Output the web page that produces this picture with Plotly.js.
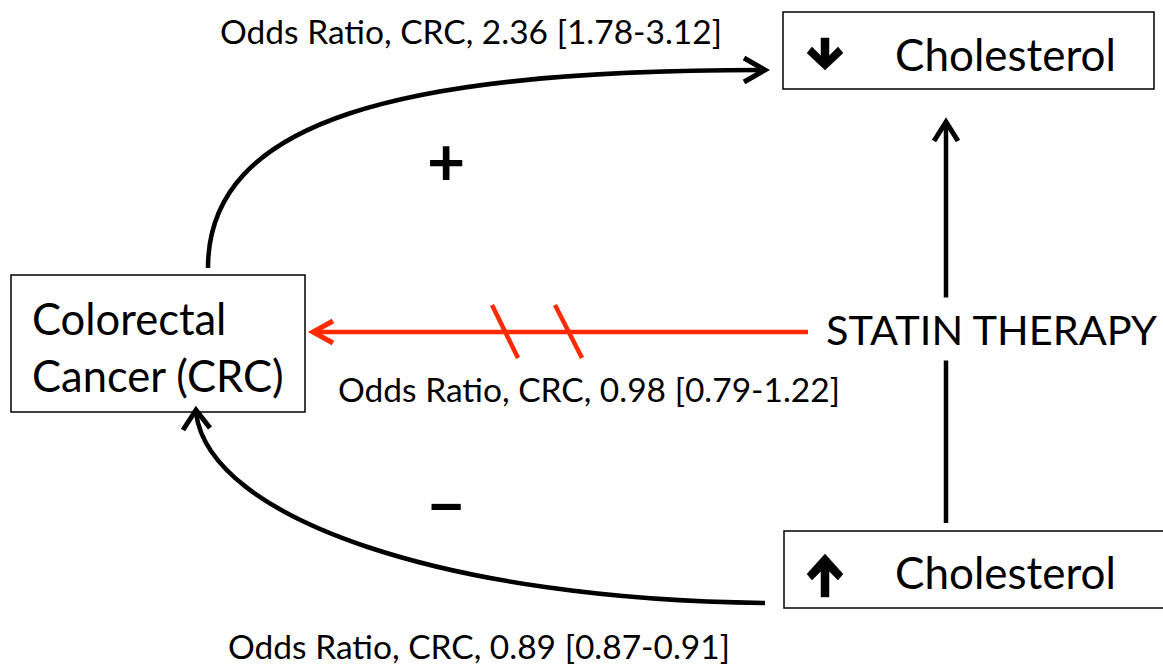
<!DOCTYPE html>
<html>
<head>
<meta charset="utf-8">
<script src="https://cdn.plot.ly/plotly-3.0.1.min.js"></script>
<style>html,body{margin:0;padding:0;background:#fff;}#chart{width:1163px;height:666px;}</style>
</head>
<body>
<div id="chart"></div>
<script>
// ---- data ----
const pathways = ['Low cholesterol -> CRC', 'Statin therapy -> CRC', 'High cholesterol -> CRC'];
const oddsRatio = [2.36, 0.98, 0.89];
const ciLower = [1.78, 0.79, 0.87];
const ciUpper = [3.12, 1.22, 0.91];
const outcomeLabel = 'CRC';
const nodeLabels = ['Colorectal<br>Cancer (CRC)', 'Cholesterol', 'Cholesterol', 'STATIN THERAPY'];
const signLabels = ['+', '\u2212'];

function orText(i) {
  return 'Odds Ratio, ' + outcomeLabel + ', ' + oddsRatio[i].toFixed(2) +
         ' [' + ciLower[i].toFixed(2) + '-' + ciUpper[i].toFixed(2) + ']';
}

const FONT = 'Lato, "Open Sans", sans-serif';
const BLACK = '#000000';
const RED = '#ff2a00';

const shapes = [];
function box(x0, y0, x1, y1) {
  shapes.push({type: 'rect', xref: 'x', yref: 'y', x0: x0, y0: y0, x1: x1, y1: y1,
    line: {color: BLACK, width: 1.5}, fillcolor: 'rgba(0,0,0,0)'});
}
function path(d, color, width, fill) {
  shapes.push({type: 'path', xref: 'x', yref: 'y', path: d,
    line: {color: color, width: width}, fillcolor: fill || 'rgba(0,0,0,0)'});
}

// boxes
box(783, 12, 1154, 89);
box(11, 275, 305, 412);
box(784, 531, 1168, 608);

// top curve (low cholesterol -> CRC association)
path('M 208 268 C 208 120, 400 70, 762 70', BLACK, 4.5);
path('M 744 58 L 765 70 L 744 82', BLACK, 5);

// bottom curve
path('M 765 603 C 450 600, 210 520, 196 413', BLACK, 4.5);
path('M 183 430 L 196 410 L 210 428', BLACK, 5);

// vertical arrow
path('M 946 523 L 946 125', BLACK, 4.5);
path('M 934 141 L 946 122 L 958 141', BLACK, 5);

// red arrow with break marks
path('M 808 332 L 315 332', RED, 4.5);
path('M 333 321 L 313 332 L 333 343', RED, 5);
path('M 492 305 L 518 358', RED, 4.5);
path('M 555 305 L 582 358', RED, 4.5);

// filled direction arrows inside cholesterol boxes
path('M 821 38 L 829 38 L 829 56 L 838 47 L 843 53 L 825 70 L 807 53 L 812 47 L 821 56 Z', BLACK, 0.5, BLACK);
path('M 821 597 L 829 597 L 829 571 L 838 580 L 843 574 L 825 554 L 807 574 L 812 580 L 821 571 Z', BLACK, 0.5, BLACK);

function ann(text, x, y, size, xanchor, extra) {
  return Object.assign({text: text, x: x, y: y, xref: 'x', yref: 'y', showarrow: false,
    xanchor: xanchor || 'center', yanchor: 'middle',
    font: {family: FONT, size: size, color: BLACK}}, extra || {});
}

const annotations = [
  ann(orText(0), 471, 31, 33.5),
  ann(orText(1), 589, 389, 33.5),
  ann(orText(2), 479, 646, 33.5),
  ann(nodeLabels[0], 30, 346, 43.5, 'left', {align: 'left'}),
  ann(nodeLabels[1], 1005, 54, 44),
  ann(nodeLabels[2], 1005, 572, 44),
  ann(nodeLabels[3], 991, 329, 41.5, 'center', {bgcolor: '#ffffff', borderpad: 6}),
  ann(signLabels[0], 446, 160, 66, 'center', {font: {family: FONT, size: 66, color: BLACK, weight: 'bold'}}),
  ann(signLabels[1], 446, 503, 66, 'center', {font: {family: FONT, size: 66, color: BLACK, weight: 'bold'}})
];

const layout = {
  width: 1163, height: 666,
  margin: {l: 0, r: 0, t: 0, b: 0},
  paper_bgcolor: '#ffffff', plot_bgcolor: '#ffffff',
  showlegend: false,
  xaxis: {range: [0, 1163], visible: false, fixedrange: true},
  yaxis: {range: [666, 0], visible: false, fixedrange: true},
  shapes: shapes,
  annotations: annotations
};

Plotly.newPlot('chart', [{x: [], y: [], type: 'scatter', mode: 'markers', hoverinfo: 'skip'}], layout, {staticPlot: true});
</script>
</body>
</html>
